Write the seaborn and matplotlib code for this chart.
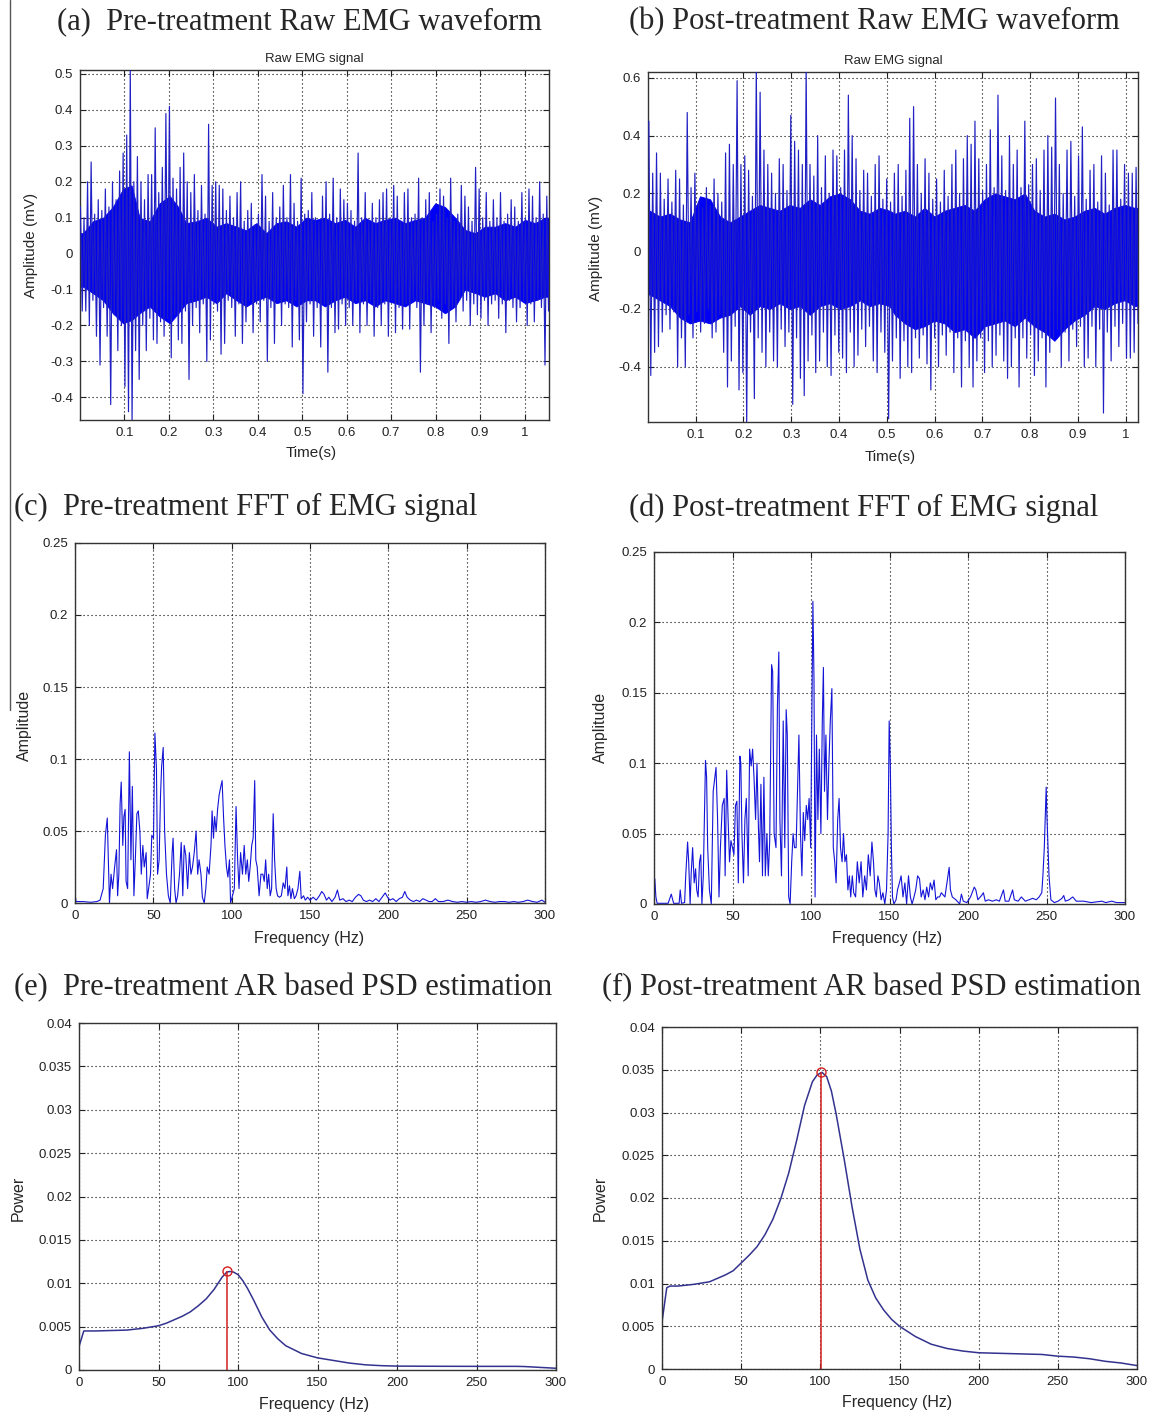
import numpy as np
import pandas as pd
import seaborn as sns
import matplotlib.pyplot as plt
from matplotlib.lines import Line2D

# ---------------- raw EMG (mV): alternating upper / lower excursions ----------------
pre_up = [.13, .10, .20, .255, .11, .15, .12, .18, .13, .20,
          .15, .23, .28, .33, .52, .20, .27, .20, .15, .22,
          .22, .35, .17, .24, .39, .41, .21, .18, .24, .28,
          .20, .17, .22, .12, .19, .11, .36, .19, .20, .19,
          .18, .12, .16, .10, .17, .20, .09, .12, .14, .08,
          .11, .22, .16, .09, .17, .10, .13, .19, .10, .22,
          .14, .09, .21, .11, .12, .17, .10, .09, .16, .20,
          .11, .21, .10, .18, .15, .14, .12, .09, .28, .10,
          .17, .09, .14, .10, .15, .17, .18, .10, .19, .16,
          .09, .17, .18, .10, .11, .21, .10, .15, .17, .09,
          .11, .18, .16, .10, .21, .09, .11, .19, .16, .13,
          .09, .24, .18, .10, .17, .09, .15, .10, .17, .09,
          .11, .15, .13, .09, .17, .10, .18, .16, .10, .20,
          .11, .16]
pre_dn = [-.16, -.16, -.20, -.13, -.23, -.31, -.15, -.23, -.42, -.17,
          -.27, -.20, -.37, -.44, -.47, -.27, -.35, -.20, -.27, -.18,
          -.24, -.25, -.19, -.23, -.18, -.29, -.17, -.24, -.25, -.16,
          -.35, -.20, -.15, -.22, -.14, -.30, -.24, -.14, -.16, -.28,
          -.25, -.13, -.15, -.23, -.14, -.25, -.19, -.13, -.22, -.14,
          -.19, -.13, -.30, -.15, -.25, -.13, -.20, -.14, -.15, -.26,
          -.13, -.24, -.39, -.19, -.14, -.23, -.15, -.26, -.14, -.33,
          -.15, -.22, -.21, -.14, -.20, -.15, -.20, -.13, -.22, -.14,
          -.20, -.13, -.23, -.15, -.20, -.14, -.23, -.13, -.22, -.15,
          -.21, -.14, -.21, -.13, -.15, -.33, -.20, -.14, -.22, -.15,
          -.13, -.18, -.14, -.25, -.15, -.19, -.13, -.16, -.13, -.20,
          -.14, -.17, -.18, -.13, -.20, -.14, -.13, -.18, -.14, -.22,
          -.13, -.15, -.19, -.15, -.13, -.20, -.14, -.19, -.13, -.15,
          -.31, -.16]
# dense (solid) core of the pre-treatment trace
pre_core_t = [0, .007, .029, .052, .074, .097, .116, .134, .157, .179, .202, .221, .239, .262, .284, .307,
              .329, .352, .374, .397, .419, .442, .464, .487, .509, .529, .551, .574, .596, .619, .641,
              .664, .686, .709, .731, .754, .776, .799, .821, .844, .866, .889, .911, .934, .956, .979,
              1.001, 1.024, 1.046, 1.055]
pre_core_hi = [.057, .057, .09, .10, .13, .18, .19, .10, .09, .14, .16, .13, .085, .09, .10, .075, .085,
               .075, .065, .085, .057, .085, .09, .075, .10, .094, .10, .085, .094, .075, .10, .085, .094,
               .10, .085, .094, .10, .14, .13, .10, .066, .057, .075, .075, .085, .075, .094, .085, .10, .10]
pre_core_lo = [-.092, -.092, -.11, -.13, -.166, -.194, -.185, -.166, -.147, -.175, -.194, -.166, -.138,
               -.13, -.12, -.138, -.11, -.13, -.147, -.13, -.12, -.138, -.13, -.147, -.13, -.13, -.147,
               -.13, -.12, -.138, -.13, -.147, -.13, -.138, -.147, -.13, -.138, -.147, -.166, -.147, -.10,
               -.11, -.12, -.11, -.13, -.12, -.138, -.13, -.12, -.12]

post_up = [.45, .27, .34, .27, .18, .25, .17, .28, .25, .16,
           .48, .22, .27, .17, .15, .22, .16, .25, .20, .17,
           .34, .37, .30, .59, .30, .33, .28, .19, .64, .55,
           .35, .30, .27, .20, .32, .30, .21, .47, .38, .35,
           .30, .64, .30, .26, .40, .22, .33, .20, .35, .33,
           .22, .35, .54, .40, .32, .21, .28, .27, .19, .30,
           .33, .18, .25, .17, .27, .30, .19, .28, .46, .50,
           .30, .20, .32, .27, .18, .25, .17, .28, .19, .30,
           .35, .20, .32, .40, .37, .45, .32, .21, .30, .42,
           .22, .54, .33, .21, .40, .30, .35, .22, .45, .23,
           .30, .32, .21, .35, .40, .36, .53, .30, .20, .35,
           .38, .19, .33, .43, .18, .28, .30, .17, .33, .27,
           .16, .35, .35, .18, .30, .27, .27, .29]
post_dn = [-.43, -.35, -.33, -.28, -.22, -.27, -.21, -.40, -.30, -.40,
           -.22, -.30, -.21, -.28, -.25, -.20, -.30, -.28, -.22, -.35,
           -.47, -.38, -.26, -.48, -.42, -.60, -.28, -.51, -.30, -.35,
           -.40, -.28, -.38, -.40, -.27, -.33, -.28, -.53, -.30, -.44,
           -.50, -.38, -.29, -.42, -.38, -.28, -.40, -.43, -.29, -.35,
           -.37, -.42, -.28, -.40, -.36, -.27, -.33, -.26, -.38, -.42,
           -.28, -.35, -.58, -.38, -.30, -.44, -.31, -.40, -.42, -.30,
           -.37, -.29, -.39, -.48, -.30, -.40, -.29, -.36, -.28, -.42,
           -.30, -.47, -.31, -.40, -.47, -.38, -.30, -.42, -.31, -.40,
           -.36, -.29, -.38, -.44, -.40, -.30, -.47, -.30, -.37, -.29,
           -.43, -.38, -.30, -.47, -.35, -.30, -.27, -.40, -.28, -.38,
           -.27, -.33, -.26, -.40, -.37, -.26, -.40, -.27, -.56, -.28,
           -.38, -.26, -.33, -.25, -.37, -.37, -.35, -.25]
post_core_t = [0, .004, .025, .046, .067, .088, .109, .130, .151, .172, .193, .213, .234, .255, .276, .297,
               .318, .339, .36, .381, .402, .423, .444, .464, .485, .506, .517, .538, .559, .579, .600, .621,
               .642, .663, .684, .705, .726, .747, .768, .789, .809, .830, .851, .872, .893, .914, .935, .956,
               .977, .998, 1.019, 1.026]
post_core_hi = [.14, .14, .12, .13, .11, .10, .19, .18, .12, .10, .12, .14, .16, .15, .14, .16, .15, .18,
                .16, .19, .20, .18, .14, .13, .15, .14, .13, .14, .12, .15, .12, .14, .15, .16, .14, .18,
                .20, .19, .18, .20, .14, .12, .13, .11, .12, .14, .15, .13, .15, .16, .15, .15]
post_core_lo = [-.15, -.15, -.17, -.19, -.23, -.25, -.24, -.25, -.23, -.22, -.19, -.22, -.19, -.20, -.18,
                -.20, -.19, -.22, -.19, -.18, -.20, -.19, -.17, -.19, -.18, -.19, -.22, -.25, -.27, -.26,
                -.24, -.25, -.28, -.27, -.30, -.26, -.25, -.24, -.26, -.23, -.26, -.28, -.31, -.27, -.24,
                -.22, -.19, -.20, -.18, -.17, -.19, -.19]

# ---------------- FFT amplitude spectra ----------------
fft_pre_hz = [0, 0.7, 5, 10, 14, 16, 18, 19.4, 20.6, 21.3, 22, 23, 24, 25.3, 26.5, 27.2, 28, 28.8, 29.5,
              30.5, 31.2, 32, 32.6, 33.6, 34.7, 35.7, 36.6, 37.6, 38.5, 39.5, 40.4, 41.4, 42.3, 43.3, 44.2,
              45.4, 46.1, 47, 48.2, 49, 50.1, 51, 52, 52.7, 53.7, 54.6, 55.3, 56.3, 57.2, 58.4, 59.6, 60.8,
              62, 62.6, 63.6, 64.5, 65.5, 66.7, 67.8, 68.8, 69.7, 70.7, 71.9, 73, 74, 75, 76.1, 77.3, 78.3,
              79.2, 80.4, 81.3, 82.5, 83.5, 84.4, 85.6, 86.8, 87.5, 88.4, 89.1, 90.1, 91, 92, 92.9, 93.9,
              94.8, 95.7, 96.7, 97.6, 98.6, 99.3, 100.5, 101.7, 102.8, 103.8, 104.7, 105.7, 106.9, 108, 109,
              110, 110.9, 111.8, 112.8, 113.7, 114.7, 115.4, 116.3, 117.5, 118.7, 119.9, 120.8, 121.7, 122.7,
              123.6, 124.6, 125.5, 126.5, 127.4, 128.4, 129.3, 130.5, 131.7, 132.9, 134, 135.2, 135.9, 136.9,
              137.8, 138.8, 140, 141.1, 142.3, 143.5, 144.4, 145.9, 147, 148.5, 150, 152, 154, 156, 157.5,
              159, 160.5, 162, 164, 166, 167.5, 169, 171, 173, 175, 177, 179, 181, 182.5, 184, 186, 188,
              190, 192, 194, 196, 198, 199.5, 201, 203, 205, 207, 209, 210.5, 212, 214, 216, 218, 220, 222,
              224, 226, 228, 230, 232, 235, 238, 241, 244, 247, 250, 253, 256, 259, 262, 265, 268, 271,
              274, 277, 280, 283, 286, 289, 292, 295, 298, 300]
fft_pre_amp = [.006, .001, .001, .0005, .001, .002, .01, .047, .059, .03, .0, .02, .01, .025, .037, .005, .02,
               .069, .084, .04, .06, .065, .015, .01, .105, .03, .081, .005, .03, .062, .064, .05, .02, .04,
               .025, .035, .003, .01, .02, .047, .045, .118, .093, .02, .03, .075, .095, .108, .05, .02, .005,
               .0, .035, .045, .01, .0, .005, .02, .042, .005, .04, .033, .01, .035, .02, .025, .035, .05,
               .02, .03, .02, .004, .0, .01, .025, .02, .04, .064, .045, .06, .05, .065, .075, .08, .085,
               .06, .04, .025, .018, .03, .0, .005, .01, .067, .03, .01, .035, .02, .04, .02, .03, .015,
               .025, .04, .045, .085, .03, .025, .005, .02, .02, .015, .03, .01, .02, .005, .01, .062, .03,
               .01, .005, .004, .005, .014, .01, .025, .005, .012, .003, .01, .003, .005, .01, .022, .003,
               .005, .002, .004, .002, .004, .002, .005, .008, .006, .002, .004, .001, .004, .009, .002,
               .003, .001, .002, .001, .004, .006, .005, .002, .001, .002, .001, .003, .001, .004, .007,
               .004, .002, .003, .001, .003, .004, .008, .004, .002, .001, .002, .001, .003, .002, .001,
               .001, .003, .001, .001, .002, .001, .0005, .001, .0005, .001, .0005, .001, .002, .001,
               .0005, .001, .001, .0005, .001, .0005, .001, .002, .001, .0005, .002, .0005]

fft_post_hz = [0, 0.5, 1.2, 2, 5, 9, 11, 12.5, 16, 16.7, 17.5, 19.5, 20.2, 21.4, 22.1, 23, 23.7, 24.6, 25.6,
               26.5, 27.2, 28.1, 29, 29.8, 30.5, 31.4, 32.8, 33.5, 34.2, 35.3, 36.5, 37.7, 38.8, 39.5, 40.5,
               41.4, 42.3, 43.5, 44.7, 45.3, 46.3, 47.2, 48.1, 49, 50, 50.9, 51.9, 52.8, 53.7, 54.7, 55.3, 56,
               57, 57.9, 58.8, 60, 60.9, 61.9, 62.8, 63.7, 64.7, 65.6, 66.5, 67.2, 68.1, 69.1, 70, 70.9, 71.9,
               72.8, 73.7, 74.9, 75.6, 76.5, 77.7, 78.6, 79.5, 80.2, 81.2, 82.3, 83.3, 84.2, 84.9, 85.8, 86.7,
               87.7, 88.6, 89.5, 90.5, 91.4, 92.3, 93.3, 94.2, 95.1, 96, 97, 97.9, 98.8, 99.8, 100.5, 101.2,
               101.9, 102.6, 103.5, 104.4, 105.3, 106.3, 107.2, 107.9, 108.6, 109.5, 110.5, 111.4, 112.3,
               113.3, 114.2, 115.1, 116, 117, 117.9, 118.8, 119.8, 120.7, 121.6, 122.6, 123.5, 124.4, 125.3,
               126.3, 127.2, 128.4, 129.5, 130.7, 131.9, 133, 134.2, 135.3, 136.5, 137.7, 138.8, 139.8, 140.7,
               141.6, 142.6, 143.5, 144.7, 145.8, 147, 148.1, 149.1, 149.8, 150.5, 151.2, 151.9, 152.8, 154.2,
               155.1, 156.3, 157.4, 158.6, 159.8, 160.9, 162.1, 163.3, 164.4, 165.6, 166.7, 167.9, 169.1,
               170.2, 171.4, 172.6, 173.7, 174.9, 176, 177.2, 178.4, 179.5, 180.7, 181.9, 183, 185.3, 187.2,
               188, 188.8, 190, 192.3, 194.7, 195.8, 197, 199.3, 201.6, 204, 205, 206.3, 208.6, 209.8, 211,
               213, 215.6, 218, 220, 222.6, 223.7, 226, 228.4, 229.5, 231.9, 234, 236.5, 238.8, 241.2, 243.5,
               245.3, 247, 247.7, 248.6, 249.3, 249.8, 250.2, 251, 251.6, 252.8, 255, 257.4, 259.8, 261, 262,
               264.4, 266.7, 269, 271.4, 273.7, 278.4, 285.3, 287.7, 291.6, 294.7, 299.3, 300]
fft_post_amp = [.0, .018, .005, .0005, .0005, .0005, .007, .0005, .0005, .01, .0005, .001, .02, .044, .03, .0,
                .022, .04, .015, .025, .01, .005, .03, .035, .0, .02, .102, .09, .04, .01, .0, .08, .09, .097,
                .06, .005, .04, .07, .075, .02, .095, .06, .03, .045, .04, .035, .07, .073, .015, .105, .1,
                .05, .015, .06, .075, .02, .11, .098, .11, .09, .06, .1, .055, .03, .085, .02, .09, .02, .05,
                .02, .045, .17, .165, .05, .04, .14, .179, .06, .02, .13, .04, .138, .12, .005, .0, .03, .05,
                .04, .04, .08, .12, .05, .02, .065, .045, .07, .06, .075, .04, .125, .215, .16, .005, .12,
                .06, .11, .05, .13, .168, .08, .12, .06, .1, .13, .153, .04, .03, .015, .06, .075, .04, .03,
                .05, .03, .035, .01, .02, .005, .02, .008, .005, .03, .015, .03, .005, .02, .01, .035, .02,
                .044, .03, .01, .005, .02, .015, .003, .008, .0, .01, .05, .13, .1, .04, .005, .0, .003, .01,
                .015, .02, .005, .015, .0, .02, .005, .0, .005, .01, .02, .018, .005, .01, .003, .012, .005,
                .015, .01, .017, .003, .005, .005, .008, .005, .02, .026, .01, .005, .003, .0, .007, .002,
                .001, .005, .012, .01, .003, .006, .008, .002, .003, .002, .003, .002, .01, .002, .002, .01,
                .003, .002, .005, .002, .003, .004, .003, .005, .008, .02, .04, .065, .083, .065, .04, .02,
                .003, .001, .002, .004, .006, .002, .003, .005, .002, .002, .002, .001, .002, .001, .002,
                .001, .001, .001]

# ---------------- AR based PSD ----------------
psd_pre_hz = [0, 3, 10, 20, 30, 40, 50, 55, 60, 65, 70, 75, 80, 85, 90, 93, 95, 97, 100, 103, 106, 110,
              115, 120, 125, 130, 140, 150, 160, 170, 180, 190, 200, 225, 250, 275, 280, 290, 300]
psd_pre_pow = [.0027, .0045, .0045, .00455, .0046, .0048, .0051, .0054, .0058, .0062, .0067, .0074, .0082,
               .0093, .0107, .0113, .01135, .0113, .0110, .0103, .0094, .0080, .0061, .0046, .0036, .0028,
               .0019, .0014, .0011, .0008, .0006, .0005, .00045, .00043, .00042, .00042, .0004, .0003, .0002]
psd_post_hz = [0, 3, 5, 10, 20, 30, 40, 45, 50, 55, 60, 65, 70, 75, 80, 85, 90, 95, 98, 101, 104, 107, 110,
               115, 120, 125, 130, 135, 140, 145, 150, 160, 170, 180, 190, 200, 220, 240, 250, 260, 270, 280,
               290, 300]
psd_post_pow = [.0055, .0095, .0097, .0097, .0099, .0102, .0110, .0115, .0124, .0133, .0143, .0157, .0175,
                .0199, .0229, .0267, .0308, .0336, .0344, .0347, .0342, .0325, .0298, .0246, .0190, .0140,
                .0104, .0083, .0069, .0058, .0050, .0038, .0029, .0024, .0021, .0019, .0018, .0017, .0015,
                .0014, .0012, .0009, .0007, .0004]
psd_pre_peak = (93.3, 0.0114)
psd_post_peak = (100.7, 0.0347)

sns.set_style("ticks")
plt.rcParams['font.family'] = ['Liberation Sans', 'DejaVu Sans']
plt.rcParams['axes.unicode_minus'] = False

W, H = 1152, 1415
fig = plt.figure(figsize=(W / 100, H / 100), dpi=100)

BLUE = '#0000f5'
SPIKE = '#2020c4'
NAVY = '#33338f'
RED = '#d42020'


def zigzag(up, dn):
    n = min(len(up), len(dn))
    return np.ravel(np.column_stack([up[:n], dn[:n]]))


def make_ax(box):
    l, t, r, b = box
    ax = fig.add_axes([l / W, 1 - b / H, (r - l) / W, (b - t) / H])
    ax.set_axisbelow(True)
    ax.grid(True, color='black', linestyle=(0, (1, 2.6)), linewidth=0.8)
    ax.tick_params(direction='in', top=True, right=True, length=4, width=0.8,
                   labelsize=9.5, pad=5, colors='#222222')
    for s in ax.spines.values():
        s.set_color('#333333')
        s.set_linewidth(1.0)
    return ax


def put_labels(ax, box, xl, xpos, yl, ypos, size=11.5):
    l, t, r, b = box
    ax.set_xlabel(xl, fontsize=size, va='center')
    ax.set_ylabel(yl, fontsize=size, va='center')
    ax.xaxis.set_label_coords((xpos[0] - l) / (r - l), (b - xpos[1]) / (b - t))
    ax.yaxis.set_label_coords((ypos[0] - l) / (r - l), (b - ypos[1]) / (b - t))


def fmt(v):
    return '0' if abs(v) < 1e-12 else ('%g' % v)


def panel_title(x, y, s):
    fig.text(x / W, 1 - y / H, s, fontsize=22, family=['Liberation Serif', 'DejaVu Serif'],
             ha='left', va='center')


def raw_panel(box, up, dn, t0, t1, core_t, core_hi, core_lo, xlim, ylim, yt, xlab, ylab):
    ax = make_ax(box)
    ax.fill_between(core_t, core_lo, core_hi, color=BLUE, linewidth=0.6, edgecolor=BLUE, zorder=2)
    sig = zigzag(up, dn)
    df = pd.DataFrame({'t': np.linspace(t0, t1, len(sig)), 'v': sig})
    sns.lineplot(data=df, x='t', y='v', ax=ax, color=SPIKE, linewidth=0.85,
                 estimator=None, sort=False, zorder=3)
    ax.set_xlim(*xlim)
    ax.set_ylim(*ylim)
    xt = [0.1, 0.2, 0.3, 0.4, 0.5, 0.6, 0.7, 0.8, 0.9, 1.0]
    ax.set_xticks(xt, [fmt(v) for v in xt])
    ax.set_yticks(yt, [fmt(v) for v in yt])
    ax.set_title('Raw EMG signal', fontsize=9.5, pad=6)
    put_labels(ax, box, 'Time(s)', xlab, 'Amplitude (mV)', ylab, size=11)


# -------- (a) / (b) raw EMG --------
raw_panel((80, 70, 549, 420), pre_up, pre_dn, 0.001, 1.054, pre_core_t, pre_core_hi, pre_core_lo,
          (0.0, 1.055), (-0.463, 0.511), [-0.4, -0.3, -0.2, -0.1, 0, 0.1, 0.2, 0.3, 0.4, 0.5],
          (311, 453), (31, 245))
raw_panel((648, 72, 1138, 422), post_up, post_dn, 0.002, 1.026, post_core_t, post_core_hi, post_core_lo,
          (0.0002, 1.026), (-0.591, 0.62), [-0.4, -0.2, 0, 0.2, 0.4, 0.6],
          (890, 457), (596, 248))

# -------- (c)/(d) FFT --------
fx = [0, 50, 100, 150, 200, 250, 300]
fy = [0, 0.05, 0.1, 0.15, 0.2, 0.25]
for box, hz, amp, xlab, ylab in [((75, 543, 545, 903), fft_pre_hz, fft_pre_amp, (309, 938), (24, 725)),
                                 ((654, 552, 1125, 904), fft_post_hz, fft_post_amp, (887, 939), (600, 727))]:
    ax = make_ax(box)
    sns.lineplot(x=hz, y=amp, ax=ax, color='#1414d8', linewidth=0.8, estimator=None, sort=False)
    ax.set_xlim(0, 300)
    ax.set_ylim(0, 0.25)
    ax.set_xticks(fx, [fmt(v) for v in fx])
    ax.set_yticks(fy, [fmt(v) for v in fy])
    put_labels(ax, box, 'Frequency (Hz)', xlab, 'Amplitude', ylab)

# -------- (e)/(f) AR PSD --------
py = [0, 0.005, 0.01, 0.015, 0.02, 0.025, 0.03, 0.035, 0.04]
for box, hz, pw, pk, xlab, ylab in [((79, 1023, 556, 1370), psd_pre_hz, psd_pre_pow, psd_pre_peak,
                                     (314, 1405), (18, 1198)),
                                    ((662, 1027, 1137, 1369), psd_post_hz, psd_post_pow, psd_post_peak,
                                     (897, 1402), (600, 1198))]:
    ax = make_ax(box)
    sns.lineplot(x=hz, y=pw, ax=ax, color=NAVY, linewidth=1.1, estimator=None, sort=False)
    ax.vlines(pk[0], 0, pk[1], color=RED, linewidth=1.1)
    ax.plot([pk[0]], [pk[1]], marker='o', markersize=6.5, markerfacecolor='none',
            markeredgecolor=RED, markeredgewidth=1.0)
    ax.set_xlim(0, 300)
    ax.set_ylim(0, 0.04)
    ax.set_xticks(fx, [fmt(v) for v in fx])
    ax.set_yticks(py, [fmt(v) for v in py])
    put_labels(ax, box, 'Frequency (Hz)', xlab, 'Power', ylab)

# panel captions
panel_title(57, 22, '(a)  Pre-treatment Raw EMG waveform')
panel_title(629, 22, '(b) Post-treatment Raw EMG waveform')
panel_title(14, 507, '(c)  Pre-treatment FFT of EMG signal')
panel_title(629, 508, '(d) Post-treatment FFT of EMG signal')
panel_title(14, 988, '(e)  Pre-treatment AR based PSD estimation')
panel_title(602, 988, '(f) Post-treatment AR based PSD estimation')

# thin rule along the left margin of the scan
fig.add_artist(Line2D([10 / W, 10 / W], [1, 1 - 710 / H], transform=fig.transFigure,
                      color='#555555', linewidth=1.0))

fig.savefig('out.png', dpi=100)
